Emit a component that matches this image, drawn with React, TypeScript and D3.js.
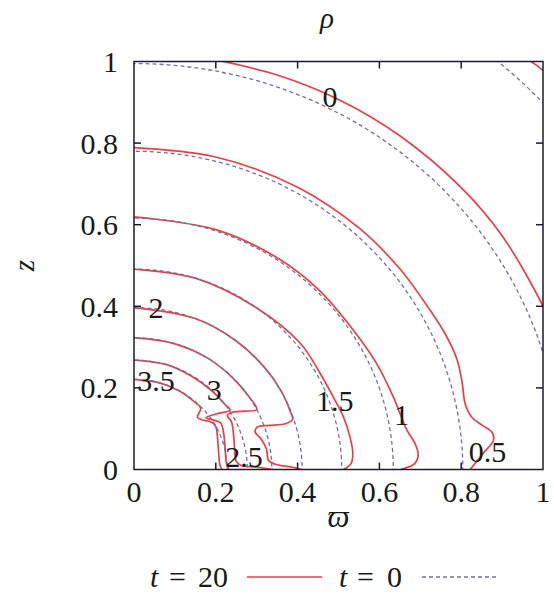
import React from "react";
import * as d3 from "d3";

// contour levels of rho, t = 0 contours are near-ellipses (equatorial / polar radius)
const levels = ["-0.5", "0", "0.5", "1", "1.5", "2", "2.5", "3", "3.5"];
const t0Equatorial = [1.369, 1.044, 0.804, 0.634, 0.508, 0.411, 0.337, 0.277, 0.228];
const t0Polar = [1.316, 0.995, 0.78, 0.616, 0.491, 0.397, 0.323, 0.268, 0.221];

// t = 20 contours, [varpi, z]
const t20Rhom05: [number, number][] = [[0.955, 1.01], [0.985, 0.99], [1.01, 0.97]];
const t20Rho0: [number, number][] = [
  [0.2, 1.004], [0.35, 0.967], [0.5, 0.907], [0.65, 0.818], [0.8, 0.691], [0.9, 0.573], [1.0, 0.4], [1.02, 0.35],
];
const t20Rho05: [number, number][] = [
  [0, 0.789], [0.2, 0.766], [0.4, 0.692], [0.55, 0.592], [0.65, 0.492], [0.707, 0.415], [0.76, 0.334],
  [0.789, 0.272], [0.802, 0.215], [0.81, 0.16], [0.826, 0.128], [0.852, 0.108], [0.875, 0.092],
  [0.879, 0.072], [0.854, 0.04], [0.822, 0],
];
const t20Rho1: [number, number][] = [
  [0, 0.619], [0.2, 0.588], [0.35, 0.519], [0.45, 0.442], [0.536, 0.342], [0.593, 0.26], [0.634, 0.178],
  [0.667, 0.097], [0.687, 0.064], [0.695, 0.036], [0.687, 0.015], [0.662, 0.003], [0.652, 0],
];
const t20Rho15: [number, number][] = [
  [0, 0.491], [0.15, 0.469], [0.3, 0.396], [0.406, 0.31], [0.455, 0.236], [0.487, 0.178], [0.512, 0.129],
  [0.528, 0.08], [0.535, 0.04], [0.531, 0.015], [0.518, 0.003], [0.512, 0],
];
const t20Rho2: [number, number][] = [
  [0, 0.397], [0.15, 0.37], [0.25, 0.315], [0.32, 0.249], [0.36, 0.192], [0.383, 0.14], [0.388, 0.123],
  [0.37, 0.112], [0.33, 0.108], [0.302, 0.104], [0.296, 0.093], [0.312, 0.073], [0.324, 0.05],
  [0.329, 0.022], [0.345, 0.013], [0.39, 0.005], [0.41, 0],
];
const t20Rho25: [number, number][] = [
  [0, 0.323], [0.1, 0.308], [0.18, 0.273], [0.24, 0.226], [0.28, 0.18], [0.3, 0.147], [0.27, 0.143],
  [0.24, 0.14], [0.228, 0.132], [0.238, 0.118], [0.243, 0.09], [0.246, 0.05], [0.25, 0.02],
  [0.262, 0.01], [0.3, 0.006], [0.34, 0],
];
const t20Rho3: [number, number][] = [
  [0, 0.268], [0.08, 0.257], [0.14, 0.229], [0.19, 0.193], [0.222, 0.16], [0.235, 0.146], [0.2, 0.136],
  [0.176, 0.127], [0.195, 0.121], [0.212, 0.114], [0.219, 0.09], [0.223, 0.05], [0.226, 0.015], [0.232, 0],
];
const t20Rho35: [number, number][] = [
  [0, 0.221], [0.06, 0.213], [0.11, 0.193], [0.145, 0.168], [0.163, 0.15], [0.155, 0.128], [0.165, 0.122],
  [0.19, 0.116], [0.2, 0.105], [0.204, 0.08], [0.207, 0.04], [0.21, 0.012], [0.215, 0],
];
const t20Contours = [t20Rhom05, t20Rho0, t20Rho05, t20Rho1, t20Rho15, t20Rho2, t20Rho25, t20Rho3, t20Rho35];

// contour labels and where they sit
const labelText = ["0", "0.5", "1", "1.5", "2", "2.5", "3", "3.5"];
const labelX = [0.479, 0.864, 0.654, 0.491, 0.054, 0.269, 0.196, 0.054];
const labelY = [0.915, 0.043, 0.134, 0.168, 0.396, 0.031, 0.195, 0.217];

const ticks = [0, 0.2, 0.4, 0.6, 0.8, 1];
const tickLabels = ["0", "0.2", "0.4", "0.6", "0.8", "1"];

const RED = "#e5404c";
const DASH = "#75709a";
const INK = "#1a1a1a";
const FONT = "'Liberation Serif', 'DejaVu Serif', serif";

export default function App() {
  const margin = { top: 61.5, right: 11, bottom: 136.5, left: 134 };
  const width = 554;
  const height = 606;
  const x = d3.scaleLinear().domain([0, 1]).range([margin.left, width - margin.right]);
  const y = d3.scaleLinear().domain([0, 1]).range([height - margin.bottom, margin.top]);

  const line = d3
    .line<[number, number]>()
    .x((d) => x(d[0]))
    .y((d) => y(d[1]))
    .curve(d3.curveCatmullRom.alpha(0.5));

  const tickLen = 7;
  const fs = 30;

  return (
    <svg width={width} height={height} style={{ position: "absolute", left: 0, top: 0, background: "#fff" }}>
      <defs>
        <clipPath id="plot">
          <rect x={x(0)} y={y(1)} width={x(1) - x(0)} height={y(0) - y(1)} />
        </clipPath>
      </defs>

      <g clipPath="url(#plot)">
        {t20Contours.map((c, i) => (
          <path key={"r" + i} d={line(c) || ""} fill="none" stroke={RED} strokeWidth={1.7} />
        ))}
        {levels.map((lv, i) => (
          <ellipse
            key={"d" + lv}
            cx={x(0)}
            cy={y(0)}
            rx={x(t0Equatorial[i]) - x(0)}
            ry={y(0) - y(t0Polar[i])}
            fill="none"
            stroke={DASH}
            strokeWidth={1.3}
            strokeDasharray="4 3"
          />
        ))}
      </g>

      {labelText.map((t, i) => (
        <text
          key={"l" + t}
          x={x(labelX[i])}
          y={y(labelY[i])}
          textAnchor="middle"
          dominantBaseline="central"
          fontFamily={FONT}
          fontSize={fs}
          fill={INK}
        >
          {t}
        </text>
      ))}

      {/* frame and mirrored inward ticks */}
      <rect x={x(0)} y={y(1)} width={x(1) - x(0)} height={y(0) - y(1)} fill="none" stroke="#1e1a2a" strokeWidth={1.5} />
      {ticks.slice(1, -1).map((t) => (
        <g key={"t" + t} stroke="#1e1a2a" strokeWidth={1.5}>
          <line x1={x(t)} x2={x(t)} y1={y(0)} y2={y(0) - tickLen} />
          <line x1={x(t)} x2={x(t)} y1={y(1)} y2={y(1) + tickLen} />
          <line x1={x(0)} x2={x(0) + tickLen} y1={y(t)} y2={y(t)} />
          <line x1={x(1)} x2={x(1) - tickLen} y1={y(t)} y2={y(t)} />
        </g>
      ))}

      {ticks.map((t, i) => (
        <text key={"xl" + t} x={x(t)} y={502} textAnchor="middle" fontFamily={FONT} fontSize={fs} fill={INK}>
          {tickLabels[i]}
        </text>
      ))}
      {ticks.map((t, i) => (
        <text
          key={"yl" + t}
          x={x(0) - 16}
          y={y(t)}
          textAnchor="end"
          dominantBaseline="central"
          fontFamily={FONT}
          fontSize={fs}
          fill={INK}
        >
          {tickLabels[i]}
        </text>
      ))}

      {/* axis titles */}
      <text x={x(0.5)} y={527} textAnchor="middle" fontFamily={FONT} fontStyle="italic" fontSize={31} fill={INK}>
        ϖ
      </text>
      <text
        transform={`translate(34,${y(0.5)}) rotate(-90)`}
        textAnchor="middle"
        fontFamily={FONT}
        fontStyle="italic"
        fontSize={29}
        fill={INK}
      >
        z
      </text>
      <text x={327} y={28} textAnchor="middle" fontFamily={FONT} fontStyle="italic" fontSize={29} fill={INK}>
        ρ
      </text>

      {/* legend */}
      <g fontFamily={FONT} fontSize={fs} fill={INK}>
        <text x={150} y={587} fontStyle="italic">t</text>
        <text x={169} y={587}>=</text>
        <text x={198} y={587}>20</text>
        <text x={339} y={587} fontStyle="italic">t</text>
        <text x={357} y={587}>=</text>
        <text x={387} y={587}>0</text>
      </g>
      <line x1={247} x2={322} y1={577} y2={577} stroke={RED} strokeWidth={1.7} />
      <line x1={422} x2={496} y1={577} y2={577} stroke={DASH} strokeWidth={1.3} strokeDasharray="4 3" />
    </svg>
  );
}
